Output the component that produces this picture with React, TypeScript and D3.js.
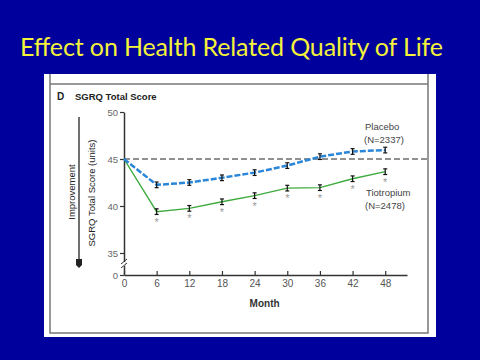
import React, { useEffect, useRef } from "react";
import * as d3 from "d3";

const months = [0, 6, 12, 18, 24, 30, 36, 42, 48];
const placebo = [45, 42.25, 42.5, 43.0, 43.55, 44.3, 45.25, 45.8, 45.95];
const tiotropium = [45, 39.4, 39.75, 40.45, 41.1, 41.9, 41.95, 42.9, 43.65];
const placeboErr = [0, 0.3, 0.3, 0.3, 0.3, 0.3, 0.3, 0.3, 0.3];
const tiotropiumErr = [0, 0.3, 0.3, 0.3, 0.3, 0.3, 0.3, 0.3, 0.3];
const starMonths = [6, 12, 18, 24, 30, 36, 42, 48];
const yTicks = [0, 35, 40, 45, 50];
const baseline = 45;

const W = 480;
const H = 360;
const font = "'Liberation Sans', Arial, sans-serif";

export default function App() {
  const ref = useRef<SVGSVGElement | null>(null);

  useEffect(() => {
    const svg = d3.select(ref.current);
    svg.selectAll("*").remove();

    // slide background
    svg.append("rect").attr("width", W).attr("height", H).attr("fill", "#00009c");

    svg.append("text")
      .attr("x", 20)
      .attr("y", 56)
      .attr("textLength", 423)
      .attr("font-family", "Lato, 'Open Sans', sans-serif")
      .attr("font-size", 25)
      .attr("fill", "#f4f23a")
      .text("Effect on Health Related Quality of Life");

    // white panel with its frame
    svg.append("rect").attr("x", 44).attr("y", 74).attr("width", 392).attr("height", 263).attr("fill", "#fff");
    const frame = svg.append("g").attr("stroke", "#777").attr("stroke-width", 1.5).attr("fill", "none");
    frame.append("path").attr("d", "M50,74 V333 H428 V74");
    frame.append("line").attr("x1", 50).attr("x2", 428).attr("y1", 84).attr("y2", 84);

    // scales (polylinear y for the broken axis)
    const x = d3.scaleLinear().domain([0, 52]).range([124, 407]);
    const y = d3.scaleLinear().domain([0, 35, 50]).range([275, 253, 112]);

    svg.append("text").attr("x", 57).attr("y", 100).attr("font-family", font)
      .attr("font-size", 10).attr("font-weight", "bold").attr("fill", "#222").text("D");
    svg.append("text").attr("x", 75).attr("y", 100).attr("font-family", font)
      .attr("font-size", 9.5).attr("font-weight", "bold").attr("fill", "#222").text("SGRQ Total Score");

    // axes
    const xAxis = svg.append("g")
      .attr("transform", `translate(0,${y(0)})`)
      .call(d3.axisBottom(x).tickValues(months).tickSize(-4).tickSizeOuter(0).tickPadding(5));
    xAxis.select(".domain").attr("stroke", "#333").attr("stroke-width", 1.5);
    xAxis.selectAll(".tick line").attr("stroke", "#333").attr("stroke-width", 1.2);
    xAxis.selectAll(".tick text").attr("font-family", font).attr("font-size", 10).attr("fill", "#555");

    const yAxis = svg.append("g")
      .attr("transform", `translate(${x(0)},0)`)
      .call(d3.axisLeft(y).tickValues(yTicks).tickSize(4).tickSizeOuter(0).tickPadding(2));
    yAxis.select(".domain").attr("stroke", "#333").attr("stroke-width", 1.5);
    yAxis.selectAll(".tick line").attr("stroke", "#333").attr("stroke-width", 1.2);
    yAxis.selectAll(".tick text").attr("font-family", font).attr("font-size", 9.5).attr("fill", "#666");

    // axis break marks
    const bx = x(0);
    const by = (y(0) + y(35)) / 2;
    svg.append("rect").attr("x", bx - 1.5).attr("y", by - 2).attr("width", 3).attr("height", 4).attr("fill", "#fff");
    [-2, 2].forEach((o) => {
      svg.append("line")
        .attr("x1", bx - 3).attr("y1", by + o + 2)
        .attr("x2", bx + 3).attr("y2", by + o - 3)
        .attr("stroke", "#333").attr("stroke-width", 1);
    });

    svg.append("text")
      .attr("transform", `translate(${x(24) + 10},307)`)
      .attr("text-anchor", "middle").attr("font-family", font).attr("font-size", 10)
      .attr("font-weight", "bold").attr("fill", "#333").text("Month");

    // y labels with improvement arrow
    svg.append("text")
      .attr("transform", "translate(95,193) rotate(-90)")
      .attr("text-anchor", "middle").attr("font-family", font).attr("font-size", 9.5)
      .attr("fill", "#222").text("SGRQ Total Score (units)");
    svg.append("text")
      .attr("transform", "translate(75,192) rotate(-90)")
      .attr("text-anchor", "middle").attr("font-family", font).attr("font-size", 9.5)
      .attr("fill", "#222").text("Improvement");
    svg.append("line").attr("x1", 79).attr("x2", 79).attr("y1", 117).attr("y2", 262)
      .attr("stroke", "#222").attr("stroke-width", 1.3);
    svg.append("path").attr("d", "M76,259 H82 V265 L79,268 L76,265 Z").attr("fill", "#222");

    // baseline dashed line
    svg.append("line")
      .attr("x1", x(0)).attr("x2", 428).attr("y1", y(baseline)).attr("y2", y(baseline))
      .attr("stroke", "#222").attr("stroke-width", 1).attr("stroke-dasharray", "6,3");

    const line = d3.line<number>().x((d, i) => x(months[i])).y((d) => y(d));

    svg.append("path").datum(tiotropium).attr("d", line)
      .attr("fill", "none").attr("stroke", "#3dab3d").attr("stroke-width", 1.4);
    svg.append("path").datum(placebo).attr("d", line)
      .attr("fill", "none").attr("stroke", "#2a86d8").attr("stroke-width", 2.5)
      .attr("stroke-dasharray", "6,2");

    const drawErr = (vals: number[], errs: number[]) => {
      vals.forEach((v, i) => {
        if (!errs[i]) return;
        const cx = x(months[i]);
        const y1 = y(v + errs[i]);
        const y2 = y(v - errs[i]);
        const g = svg.append("g").attr("stroke", "#111").attr("stroke-width", 1.2);
        g.append("line").attr("x1", cx).attr("x2", cx).attr("y1", y1).attr("y2", y2);
        g.append("line").attr("x1", cx - 2).attr("x2", cx + 2).attr("y1", y1).attr("y2", y1);
        g.append("line").attr("x1", cx - 2).attr("x2", cx + 2).attr("y1", y2).attr("y2", y2);
      });
    };
    drawErr(placebo, placeboErr);
    drawErr(tiotropium, tiotropiumErr);

    // significance asterisks
    svg.selectAll("text.star").data(starMonths).enter().append("text")
      .attr("class", "star")
      .attr("x", (d) => x(d))
      .attr("y", (d) => y(tiotropium[months.indexOf(d)]) + 14)
      .attr("text-anchor", "middle").attr("font-family", font).attr("font-size", 11)
      .attr("fill", "#999").text("*");

    // series labels
    const lab = (t: string, xx: number, yy: number) =>
      svg.append("text").attr("x", xx).attr("y", yy).attr("font-family", font)
        .attr("font-size", 9.5).attr("fill", "#444").text(t);
    lab("Placebo", 365, 130);
    lab("(N=2337)", 364, 143);
    lab("Tiotropium", 366, 196);
    lab("(N=2478)", 365, 209);
  }, []);

  return (
    <div style={{ position: "fixed", left: 0, top: 0 }}>
      <svg ref={ref} width={W} height={H} style={{ display: "block" }} />
    </div>
  );
}
